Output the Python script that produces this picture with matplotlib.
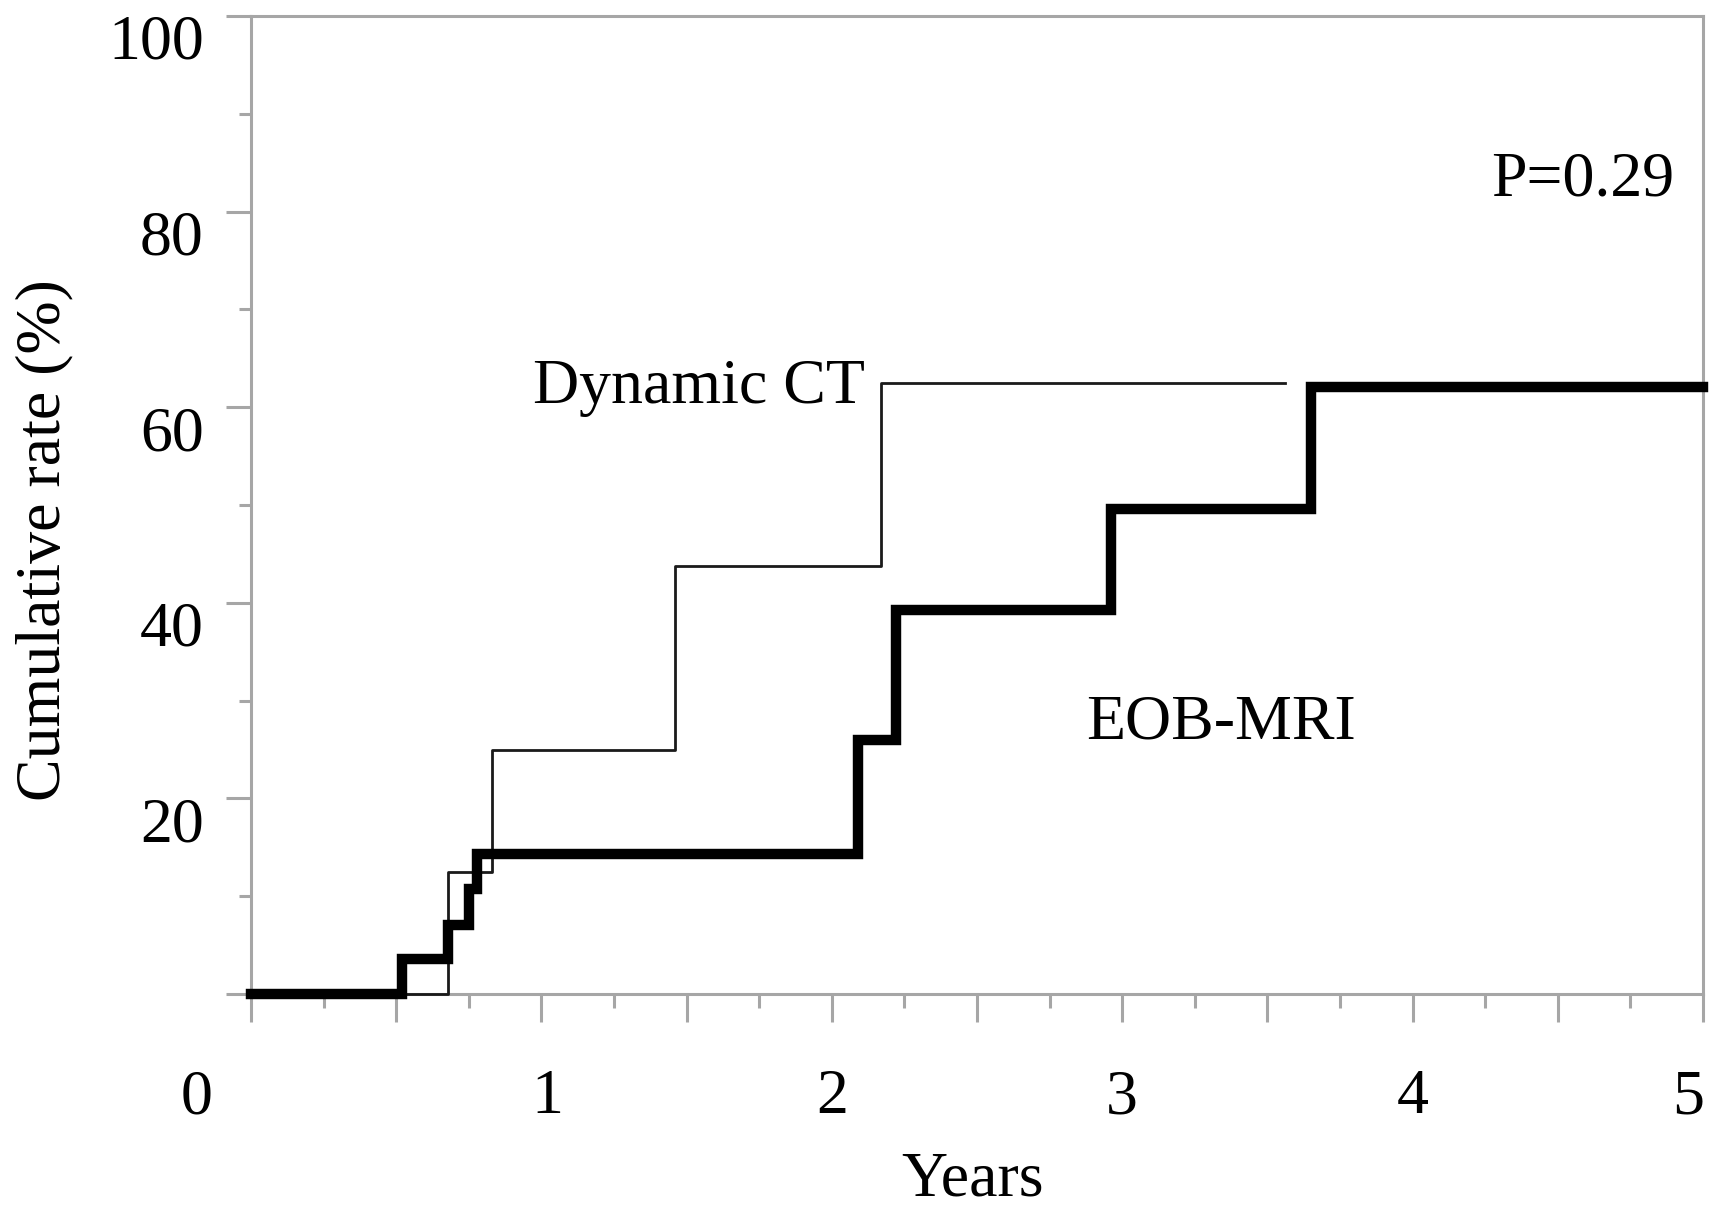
import numpy as np
import matplotlib
matplotlib.use("Agg")
from matplotlib import pyplot as plt
from matplotlib.transforms import ScaledTranslation

# step curves (years, cumulative %)
ct_time = [0, 0.68, 0.83, 1.46, 2.17, 3.56]
ct_rate = [0, 12.5, 25.0, 43.8, 62.5, 62.5]

eob_time = [0, 0.52, 0.68, 0.75, 0.78, 2.09, 2.22, 2.96, 3.65, 5.0]
eob_rate = [0, 3.6, 7.1, 10.7, 14.3, 26.0, 39.3, 49.6, 62.1, 62.1]

x_ticks = [0, 1, 2, 3, 4, 5]
x_labels = ["0", "1", "2", "3", "4", "5"]
y_ticks = [0, 20, 40, 60, 80, 100]
y_labels = ["", "20", "40", "60", "80", "100"]

plt.rcParams["font.family"] = ["Liberation Serif", "DejaVu Serif"]
axis_grey = "#a6a6a6"

fig = plt.figure(figsize=(17.12, 12.10), dpi=100)
ax = fig.add_axes([0.1466, 0.1785, 0.8481, 0.8083])

ax.step(ct_time, ct_rate, where="post", color="#1a1a1a", lw=2.0, clip_on=False, zorder=3)
ax.step(eob_time, eob_rate, where="post", color="black", lw=7.5, clip_on=False, zorder=4,
        solid_joinstyle="miter")

ax.set_xlim(0, 5)
ax.set_ylim(0, 100)

for s in ax.spines.values():
    s.set_color(axis_grey)
    s.set_linewidth(2.2)

ax.set_xticks(x_ticks)
ax.set_xticklabels(x_labels)
ax.set_xticks(np.arange(0, 5.01, 0.25), minor=True)
ax.set_yticks(y_ticks)
ax.set_yticklabels(y_labels)
ax.set_yticks(np.arange(0, 101, 10), minor=True)

ax.tick_params(axis="both", which="both", direction="out", color=axis_grey, width=2.2,
               labelsize=46)
ax.tick_params(axis="x", which="major", length=20, pad=34)
ax.tick_params(axis="x", which="minor", length=10)
ax.tick_params(axis="y", which="major", length=18, pad=16)
ax.tick_params(axis="y", which="minor", length=9)

# half-unit x ticks are long like the integer ones
for loc, t in zip(ax.xaxis.get_minorticklocs(), ax.xaxis.get_minor_ticks()):
    if abs(loc * 2 - round(loc * 2)) < 1e-6:
        t.tick1line.set_markersize(20)

# y labels sit a bit below their ticks; end labels pulled inwards
for lab in ax.get_yticklabels():
    lab.set_transform(lab.get_transform() + ScaledTranslation(0, -0.21, fig.dpi_scale_trans))
xlabs = ax.get_xticklabels()
xlabs[0].set_transform(xlabs[0].get_transform() + ScaledTranslation(-0.54, 0, fig.dpi_scale_trans))
xlabs[1].set_transform(xlabs[1].get_transform() + ScaledTranslation(0.06, 0, fig.dpi_scale_trans))
xlabs[-1].set_transform(xlabs[-1].get_transform() + ScaledTranslation(-0.15, 0, fig.dpi_scale_trans))

ax.text(0.97, 62, "Dynamic CT", fontsize=46, va="center", ha="left")
ax.text(2.875, 27.7, "EOB-MRI", fontsize=46, va="center", ha="left")
ax.text(4.27, 83.2, "P=0.29", fontsize=46, va="center", ha="left")

fig.text(44 / 1712, 1 - 540 / 1210, "Cumulative rate (%)", rotation=90, fontsize=46,
         ha="center", va="center")
fig.text(972 / 1712, 1 - 1180 / 1210, "Years", fontsize=46, ha="center", va="center")

fig.savefig("out.png", dpi=100)
